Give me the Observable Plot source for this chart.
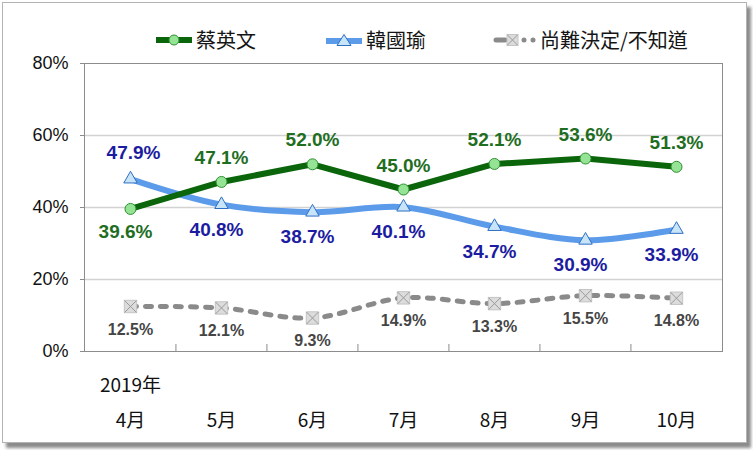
<!DOCTYPE html>
<html>
<head>
<meta charset="utf-8">
<script src="https://cdn.jsdelivr.net/npm/d3@7"></script>
<script src="https://cdn.jsdelivr.net/npm/@observablehq/plot@0.6"></script>
<style>
  body { margin: 0; width: 753px; height: 450px; overflow: hidden; position: relative; background: #fff;
         font-family: "Liberation Sans", Arial, "Noto Sans CJK TC", sans-serif; }
  #frame { position: absolute; left: 2px; top: 2px; width: 745px; height: 441px; box-sizing: border-box;
           border: 1px solid #b4b4b4; box-shadow: 4px 5px 3px #8c8c8c; background: #fff; }
  .item { position: absolute; top: 28px; height: 24px; display: flex; align-items: center;
          font-family: "Noto Sans CJK TC", sans-serif; font-size: 20px; line-height: 1; color: #151515; white-space: nowrap; }
  .item svg { margin-right: 3px; }
  #chart { position: absolute; left: 0; top: 50px; }
</style>
</head>
<body>
<div id="frame"></div>
<div class="item" style="left:155px">
  <svg width="38" height="16"><line x1="1" x2="37" y1="8" y2="8" stroke="#0b650b" stroke-width="6"/><circle cx="19" cy="8" r="5" fill="#95e495" stroke="#2f8f2f"/></svg><span>蔡英文</span>
</div>
<div class="item" style="left:325px">
  <svg width="38" height="16"><line x1="1" x2="37" y1="9" y2="9" stroke="#5b9bea" stroke-width="6"/><path d="M19,2.5 L26,13.5 L12,13.5 Z" fill="#c8e4f8" stroke="#2e6fc4"/></svg><span>韓國瑜</span>
</div>
<div class="item" style="left:493px">
  <svg width="44" height="16"><line x1="3" x2="12" y1="8" y2="8" stroke="#8a8a8a" stroke-width="5" stroke-linecap="round"/><rect x="14" y="2.5" width="11" height="11" fill="#dcdcdc" stroke="#c4c4c4"/><path d="M14.5,3 L24.5,13 M24.5,3 L14.5,13" stroke="#9a9a9a"/><circle cx="31" cy="8" r="2.5" fill="#8a8a8a"/><circle cx="40" cy="8" r="2.5" fill="#8a8a8a"/></svg><span>尚難決定/不知道</span>
</div>
<div id="chart"></div>
<script>
// ---- data ----
const yearLabel = "2019年";
const months = ["4月", "5月", "6月", "7月", "8月", "9月", "10月"];
const seriesNames = ["蔡英文", "韓國瑜", "尚難決定/不知道"];
const tsai = [39.6, 47.1, 52.0, 45.0, 52.1, 53.6, 51.3];
const han = [47.9, 40.8, 38.7, 40.1, 34.7, 30.9, 33.9];
const undecided = [12.5, 12.1, 9.3, 14.9, 13.3, 15.5, 14.8];
const yTicks = [0, 20, 40, 60, 80];

// ---- table ----
const rows = [];
months.forEach((m, i) => {
  rows.push({month: m, series: seriesNames[0], value: tsai[i], above: tsai[i] >= han[i]});
  rows.push({month: m, series: seriesNames[1], value: han[i], above: han[i] > tsai[i]});
  rows.push({month: m, series: seriesNames[2], value: undecided[i], above: false});
});
const S = (k) => rows.filter(d => d.series === seriesNames[k]);
const fmt = d => d.value.toFixed(1) + "%";

const W = 753, H = 400, ML = 84, MR = 31, MT = 13, MB = 99;
const step = (W - ML - MR) / months.length;

const green = "#0b650b", greenText = "#1f6e1f";
const blue = "#5b9bea", blueText = "#1c1ca0";
const gray = "#8a8a8a", grayText = "#454545";
const cjk = '"Noto Sans CJK TC", sans-serif';

const chart = Plot.plot({
  width: W, height: H,
  marginLeft: ML, marginRight: MR, marginTop: MT, marginBottom: MB,
  style: {fontFamily: '"Liberation Sans", Arial, "Noto Sans CJK TC", sans-serif', background: "transparent", color: "#111"},
  x: {type: "point", domain: months, padding: 0.5, label: null},
  y: {domain: [0, 80], label: null},
  marks: [
    Plot.gridY([20, 40, 60], {stroke: "#d2d2d2", strokeOpacity: 1, strokeWidth: 1.5}),
    Plot.frame({stroke: "#8c8c8c"}),
    Plot.axisY({ticks: yTicks, tickFormat: d => d + "%", tickSize: 4, tickPadding: 12, stroke: "#8c8c8c", fontSize: 18, fill: "#111", label: null}),
    Plot.axisX({tickSize: 0, tickPadding: 62, fontSize: 19, fill: "#111", fontFamily: cjk, label: null}),
    Plot.axisX({tickSize: 0, tickPadding: 27, fontSize: 19, fill: "#111", fontFamily: cjk, label: null, tickFormat: (d, i) => i === 0 ? yearLabel : ""}),
    Plot.ruleX(months.slice(1), {x: d => d, dx: -step / 2, y1: 0, y2: 0, insetTop: -7, stroke: "#8c8c8c"}),
    // lines
    Plot.line(S(2), {x: "month", y: "value", stroke: gray, strokeWidth: 5, strokeDasharray: "6,9", strokeLinecap: "round", curve: "catmull-rom"}),
    Plot.line(S(1), {x: "month", y: "value", stroke: blue, strokeWidth: 6, curve: "catmull-rom"}),
    Plot.line(S(0), {x: "month", y: "value", stroke: green, strokeWidth: 6}),
    // markers
    Plot.dot(S(2), {x: "month", y: "value", symbol: "square", r: 7, fill: "#dcdcdc", stroke: "#c4c4c4", strokeWidth: 1}),
    Plot.dot(S(2), {x: "month", y: "value", symbol: "times", r: 5.5, stroke: "#9a9a9a", strokeWidth: 1}),
    Plot.dot(S(1), {x: "month", y: "value", symbol: "triangle", r: 5, fill: "#c8e4f8", stroke: "#2e6fc4", strokeWidth: 1}),
    Plot.dot(S(0), {x: "month", y: "value", r: 5.5, fill: "#95e495", stroke: "#2f8f2f", strokeWidth: 1}),
    // labels
    Plot.text(S(0).filter(d => d.above), {x: "month", y: "value", text: fmt, dy: -24, fill: greenText, fontWeight: "bold", fontSize: 19}),
    Plot.text(S(0).filter(d => !d.above), {x: "month", y: "value", text: fmt, dy: 23, dx: -5, fill: greenText, fontWeight: "bold", fontSize: 19}),
    Plot.text(S(1).filter(d => d.above), {x: "month", y: "value", text: fmt, dy: -26, dx: 3, fill: blueText, fontWeight: "bold", fontSize: 19}),
    Plot.text(S(1).filter(d => !d.above), {x: "month", y: "value", text: fmt, dy: 25, dx: -5, fill: blueText, fontWeight: "bold", fontSize: 19}),
    Plot.text(S(2), {x: "month", y: "value", text: fmt, dy: 23, fill: grayText, fontWeight: "bold", fontSize: 16})
  ]
});
document.getElementById("chart").appendChild(chart);
</script>
</body>
</html>
